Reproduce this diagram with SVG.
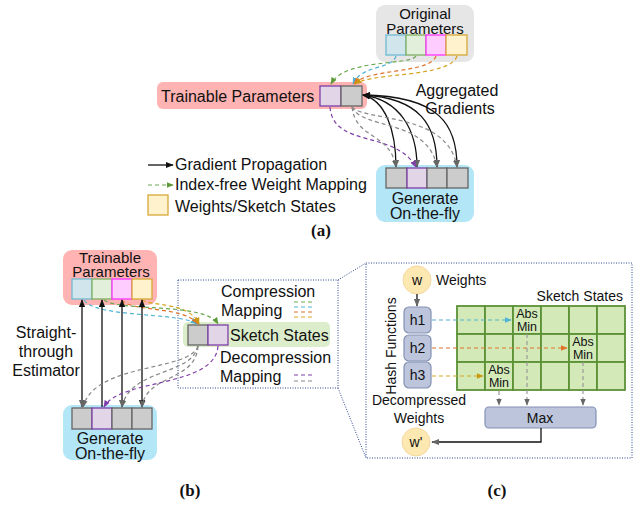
<svg xmlns="http://www.w3.org/2000/svg" width="644" height="506" viewBox="0 0 644 506">
<style>
text{font-family:"Liberation Sans",Arial,sans-serif;fill:#111}
.t16{font-size:16px}
.t15{font-size:15px}
.t14{font-size:14px}
.t12{font-size:12.5px}
.lbl{font-family:"Liberation Serif","Times New Roman",serif;font-weight:bold;font-size:17px}
.gray{fill:#cccccc;stroke:#666;stroke-width:1.3}
.pur{fill:#e1d5e7;stroke:#7e3fa8;stroke-width:1.3}
.cb{fill:#d0e5ec;stroke:#6fbad2;stroke-width:1.3}
.cg{fill:#e2efda;stroke:#7fb062;stroke-width:1.3}
.cp{fill:#ffccff;stroke:#ff33ff;stroke-width:1.3}
.cy{fill:#fff2cc;stroke:#d6a83a;stroke-width:1.3}
.d{fill:none;stroke-width:1.2;stroke-dasharray:4 3}
.solid{fill:none;stroke:#111;stroke-width:1.3}
.grid{fill:#d3eab8;stroke:#5b9236;stroke-width:1.8}
.hb{fill:#bcc5dc;stroke:#8492b4;stroke-width:1.2}
.circ{fill:#fde8b2;stroke:#f3d9a0;stroke-width:1}
.dot{fill:none;stroke:#2f4690;stroke-width:1;stroke-dasharray:1 1.5}
</style>
<defs>
<marker id="ak" viewBox="0 0 10 10" refX="9" refY="5" markerWidth="6" markerHeight="6" orient="auto-start-reverse"><path d="M0,1 L10,5 L0,9 z" fill="#111"/></marker>
<marker id="ag" viewBox="0 0 10 10" refX="9" refY="5" markerWidth="6" markerHeight="6" orient="auto-start-reverse"><path d="M0,1 L10,5 L0,9 z" fill="#666"/></marker>
<marker id="agn" viewBox="0 0 10 10" refX="9" refY="5" markerWidth="6" markerHeight="6" orient="auto"><path d="M0,1 L10,5 L0,9 z" fill="#5f9a3a"/></marker>
<marker id="abl" viewBox="0 0 10 10" refX="9" refY="5" markerWidth="6" markerHeight="6" orient="auto"><path d="M0,1 L10,5 L0,9 z" fill="#4fb3d4"/></marker>
<marker id="aor" viewBox="0 0 10 10" refX="9" refY="5" markerWidth="6" markerHeight="6" orient="auto"><path d="M0,1 L10,5 L0,9 z" fill="#e0732a"/></marker>
<marker id="ayl" viewBox="0 0 10 10" refX="9" refY="5" markerWidth="6" markerHeight="6" orient="auto"><path d="M0,1 L10,5 L0,9 z" fill="#c99a10"/></marker>
<marker id="apu" viewBox="0 0 10 10" refX="9" refY="5" markerWidth="6" markerHeight="6" orient="auto"><path d="M0,1 L10,5 L0,9 z" fill="#7e3fa8"/></marker>
</defs>
<rect width="644" height="506" fill="#fff"/>

<!-- (a) -->
<g id="orig-params">
<rect x="376" y="5" width="98" height="57" rx="9" fill="#e6e6e6"/>
<text class="t15" x="425" y="19" text-anchor="middle">Original</text>
<text class="t15" x="425" y="34" text-anchor="middle">Parameters</text>
<rect class="cb" x="386" y="35" width="20" height="20"/>
<rect class="cg" x="406" y="35" width="20" height="20"/>
<rect class="cp" x="426" y="35" width="20" height="20"/>
<rect class="cy" x="446" y="35" width="21" height="20"/>
</g>
<g id="trainable-a">
<rect x="157" y="82" width="210" height="27" rx="6" fill="#ffb3b3"/>
<text class="t16" x="161" y="102">Trainable Parameters</text>
<rect class="pur" x="320" y="86" width="21" height="20"/>
<rect class="gray" x="341" y="86" width="21" height="20"/>
</g>
<g id="aggregated-label">
<text class="t16" x="457" y="96" text-anchor="middle">Aggregated</text>
<text class="t16" x="460" y="114" text-anchor="middle">Gradients</text>
</g>
<g id="generate-a">
<rect x="376" y="165" width="98" height="57" rx="9" fill="#b3e6f7"/>
<rect class="gray" x="386" y="168" width="21" height="20"/>
<rect class="pur" x="407" y="168" width="20" height="20"/>
<rect class="gray" x="427" y="168" width="20" height="20"/>
<rect class="gray" x="447" y="168" width="21" height="20"/>
<text class="t16" x="425" y="204" text-anchor="middle">Generate</text>
<text class="t16" x="425" y="219" text-anchor="middle">On-the-fly</text>
</g>
<g id="legend-a">
<line class="solid" x1="148" y1="165" x2="173" y2="165" marker-end="url(#ak)"/>
<text class="t16" x="175" y="170">Gradient Propagation</text>
<line class="d" x1="148" y1="185" x2="173" y2="185" stroke="#6aa84f" marker-end="url(#agn)"/>
<text class="t16" x="175" y="190">Index-free Weight Mapping</text>
<rect class="cy" x="148" y="195" width="20" height="20"/>
<text class="t16" x="175" y="212">Weights/Sketch States</text>
</g>
<g id="connectors-a">
<path class="d" stroke="#6aa84f" d="M416,56 C410,66 345,58 331,84" marker-end="url(#agn)"/>
<path class="d" stroke="#4fb3d4" d="M396,56 C392,70 362,64 353,84" marker-end="url(#abl)"/>
<path class="d" stroke="#e0732a" d="M436,56 C430,74 368,68 354,84" marker-end="url(#aor)"/>
<path class="d" stroke="#d6a520" d="M457,56 C450,78 372,72 355,84" marker-end="url(#ayl)"/>
<path class="solid" d="M363,95 C385,100 396,130 396,167" marker-start="url(#ak)" marker-end="url(#ag)"/>
<path class="solid" d="M363,95 C400,100 417,130 417,167" marker-start="url(#ak)" marker-end="url(#ag)"/>
<path class="solid" d="M363,95 C420,98 437,125 437,167" marker-start="url(#ak)" marker-end="url(#ag)"/>
<path class="solid" d="M363,95 C440,96 457,125 457,167" marker-start="url(#ak)" marker-end="url(#ag)"/>
<path class="d" stroke="#7e3fa8" d="M330,107 C333,148 395,130 416,167" marker-end="url(#apu)"/>
<path class="d" stroke="#888" d="M352,107 C356,140 390,132 396,167" marker-end="url(#ag)"/>
<path class="d" stroke="#888" d="M352,107 C362,130 428,118 437,167" marker-end="url(#ag)"/>
<path class="d" stroke="#888" d="M352,107 C366,122 448,112 457,167" marker-end="url(#ag)"/>
</g>
<text class="lbl" x="321" y="236" text-anchor="middle">(a)</text>

<!-- (b) -->
<g id="trainable-b">
<rect x="63" y="250" width="94" height="55" rx="9" fill="#ffb3b3"/>
<text class="t15" x="110" y="263" text-anchor="middle">Trainable</text>
<text class="t15" x="111" y="277" text-anchor="middle">Parameters</text>
<rect class="cb" x="72" y="279" width="20" height="20"/>
<rect class="cg" x="92" y="279" width="20" height="20"/>
<rect class="cp" x="112" y="279" width="20" height="20"/>
<rect class="cy" x="132" y="279" width="20" height="20"/>
</g>
<g id="generate-b">
<rect x="63" y="405" width="94" height="55" rx="9" fill="#b3e6f7"/>
<rect class="gray" x="72" y="408" width="20" height="21"/>
<rect class="pur" x="92" y="408" width="20" height="21"/>
<rect class="gray" x="112" y="408" width="20" height="21"/>
<rect class="gray" x="132" y="408" width="20" height="21"/>
<text class="t16" x="110" y="444" text-anchor="middle">Generate</text>
<text class="t16" x="110" y="459" text-anchor="middle">On-the-fly</text>
</g>
<g id="ste-label">
<text class="t16" x="46" y="338" text-anchor="middle">Straight-</text>
<text class="t16" x="46" y="357" text-anchor="middle">through</text>
<text class="t16" x="46" y="376" text-anchor="middle">Estimator</text>
</g>
<g id="sketch-b">
<rect x="183" y="322" width="147" height="25" rx="5" fill="#dcedcc"/>
<rect class="gray" x="188" y="325" width="20" height="20"/>
<rect class="pur" x="208" y="325" width="20" height="20"/>
<text class="t16" x="230" y="341">Sketch States</text>
</g>
<g id="mapping-legend-b">
<rect class="dot" x="178" y="280" width="160" height="108"/>
<text class="t16" x="221" y="297">Compression</text>
<text class="t16" x="221" y="316">Mapping</text>
<line class="d" x1="294" y1="302" x2="313" y2="302" stroke="#6aa84f" stroke-dasharray="3 2"/>
<line class="d" x1="294" y1="307" x2="313" y2="307" stroke="#4fb3d4" stroke-dasharray="3 2"/>
<line class="d" x1="294" y1="312" x2="313" y2="312" stroke="#e0732a" stroke-dasharray="3 2"/>
<line class="d" x1="294" y1="317" x2="313" y2="317" stroke="#d6a520" stroke-dasharray="3 2"/>
<text class="t16" x="220" y="363">Decompression</text>
<text class="t16" x="220" y="382">Mapping</text>
<line class="d" x1="294" y1="375" x2="313" y2="375" stroke="#7e3fa8" stroke-dasharray="3 2"/>
<line class="d" x1="294" y1="381" x2="313" y2="381" stroke="#888" stroke-dasharray="3 2"/>
</g>
<g id="connectors-b">
<path class="d" stroke="#4fb3d4" d="M84,300 C95,318 180,312 197,324" marker-end="url(#abl)"/>
<path class="d" stroke="#e0732a" d="M122,300 C130,312 185,306 198,324" marker-end="url(#aor)"/>
<path class="d" stroke="#d6a520" d="M142,300 C150,306 190,302 199,324" marker-end="url(#ayl)"/>
<path class="d" stroke="#6aa84f" d="M104,300 C120,312 205,302 218,324" marker-end="url(#agn)"/>
<line class="solid" x1="82" y1="300" x2="82" y2="407" marker-start="url(#ak)" marker-end="url(#ag)"/>
<line class="solid" stroke="#555" x1="102" y1="300" x2="102" y2="407" marker-start="url(#ak)"/>
<line class="solid" x1="122" y1="300" x2="122" y2="407" marker-start="url(#ak)" marker-end="url(#ag)"/>
<line class="solid" stroke="#444" x1="142" y1="300" x2="142" y2="407" marker-start="url(#ak)" marker-end="url(#ak)"/>
<path class="d" stroke="#888" d="M198,346 C190,372 95,362 83,407" marker-end="url(#ag)"/>
<path class="d" stroke="#888" d="M198,346 C192,376 130,368 122,407" marker-end="url(#ag)"/>
<path class="d" stroke="#888" d="M198,346 C196,382 146,374 142,407" marker-end="url(#ag)"/>
<path class="d" stroke="#7e3fa8" d="M218,346 C215,388 120,378 104,407" marker-end="url(#apu)"/>
<line class="dot" x1="338" y1="280" x2="366" y2="263"/>
<line class="dot" x1="338" y1="388" x2="366" y2="458"/>
</g>
<text class="lbl" x="190" y="496" text-anchor="middle">(b)</text>

<!-- (c) -->
<g id="panel-c">
<rect class="dot" x="366" y="263" width="266" height="195"/>
</g>
<g id="w-node">
<circle class="circ" cx="417" cy="280" r="14"/>
<text class="t14" x="417" y="285" text-anchor="middle">w</text>
<text class="t14" x="436" y="285">Weights</text>
</g>
<g id="hash-functions">
<text class="t14" transform="translate(396,346) rotate(-90)" text-anchor="middle">Hash Functions</text>
<rect class="hb" x="404" y="307" width="27" height="26" rx="5"/>
<text class="t14" x="417.5" y="325" text-anchor="middle">h1</text>
<rect class="hb" x="404" y="335" width="27" height="26" rx="5"/>
<text class="t14" x="417.5" y="353" text-anchor="middle">h2</text>
<rect class="hb" x="404" y="362" width="27" height="26" rx="5"/>
<text class="t14" x="417.5" y="380" text-anchor="middle">h3</text>
</g>
<g id="sketch-grid">
<text class="t14" x="623" y="301" text-anchor="end">Sketch States</text>
<rect class="grid" x="457" y="306" width="28" height="28"/>
<rect class="grid" x="485" y="306" width="28" height="28"/>
<rect class="grid" x="513" y="306" width="28" height="28"/>
<rect class="grid" x="541" y="306" width="28" height="28"/>
<rect class="grid" x="569" y="306" width="28" height="28"/>
<rect class="grid" x="597" y="306" width="28" height="28"/>
<rect class="grid" x="457" y="334" width="28" height="28"/>
<rect class="grid" x="485" y="334" width="28" height="28"/>
<rect class="grid" x="513" y="334" width="28" height="28"/>
<rect class="grid" x="541" y="334" width="28" height="28"/>
<rect class="grid" x="569" y="334" width="28" height="28"/>
<rect class="grid" x="597" y="334" width="28" height="28"/>
<rect class="grid" x="457" y="362" width="28" height="28"/>
<rect class="grid" x="485" y="362" width="28" height="28"/>
<rect class="grid" x="513" y="362" width="28" height="28"/>
<rect class="grid" x="541" y="362" width="28" height="28"/>
<rect class="grid" x="569" y="362" width="28" height="28"/>
<rect class="grid" x="597" y="362" width="28" height="28"/>
<text class="t12" x="527" y="318" text-anchor="middle">Abs</text>
<text class="t12" x="527" y="331" text-anchor="middle">Min</text>
<text class="t12" x="583" y="346" text-anchor="middle">Abs</text>
<text class="t12" x="583" y="359" text-anchor="middle">Min</text>
<text class="t12" x="499" y="374" text-anchor="middle">Abs</text>
<text class="t12" x="499" y="387" text-anchor="middle">Min</text>
</g>
<g id="max-node">
<rect class="hb" x="485" y="407" width="111" height="21" rx="4"/>
<text class="t14" x="540" y="423" text-anchor="middle">Max</text>
</g>
<g id="decompressed-label">
<text class="t14" x="419" y="405" text-anchor="middle">Decompressed</text>
<text class="t14" x="419" y="423" text-anchor="middle">Weights</text>
</g>
<g id="w-prime">
<circle class="circ" cx="416" cy="442" r="14"/>
<text class="t14" x="416" y="447" text-anchor="middle">w'</text>
</g>
<g id="connectors-c">
<line class="solid" stroke="#444" x1="417" y1="294" x2="417" y2="306" marker-end="url(#ag)"/>
<line class="d" stroke="#4fb3d4" x1="432" y1="320" x2="511" y2="320" marker-end="url(#abl)"/>
<line class="d" stroke="#e0732a" x1="432" y1="348" x2="567" y2="348" marker-end="url(#aor)"/>
<line class="d" stroke="#d6a520" x1="432" y1="376" x2="483" y2="376" marker-end="url(#ayl)"/>
<line class="d" stroke="#999" x1="499" y1="391" x2="499" y2="405" marker-end="url(#ag)"/>
<line class="d" stroke="#999" x1="527" y1="334" x2="527" y2="405" marker-end="url(#ag)"/>
<line class="d" stroke="#999" x1="583" y1="362" x2="583" y2="405" marker-end="url(#ag)"/>
<path class="solid" stroke="#333" d="M541,428 V442 H432" marker-end="url(#ag)"/>
</g>
<text class="lbl" x="497" y="496" text-anchor="middle">(c)</text>
</svg>
